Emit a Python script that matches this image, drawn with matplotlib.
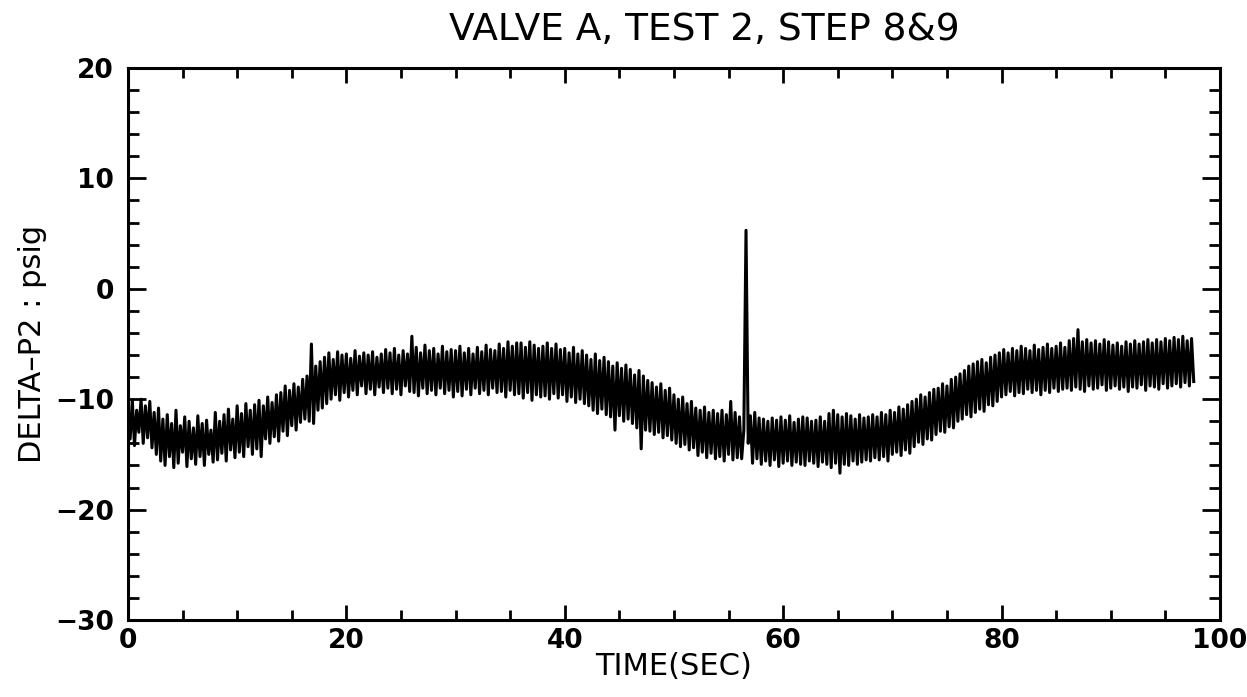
import numpy as np
import matplotlib
matplotlib.use("Agg")
import matplotlib.pyplot as plt
from matplotlib.ticker import MultipleLocator

# samples every 0.2 s (2 s per row)
sample_dt = 0.2
delta_p2 = [
    -10.4, -13.6, -10.1, -14.2, -11.0, -13.0, -10.0, -14.0, -10.6, -13.5,
    -10.2, -14.4, -11.2, -15.0, -10.8, -15.6, -11.8, -16.0, -11.4, -15.2,
    -12.2, -16.2, -11.0, -15.8, -12.4, -14.8, -11.6, -16.1, -12.0, -15.4,
    -12.6, -15.9, -11.5, -15.2, -12.2, -16.0, -11.9, -15.0, -12.8, -15.7,
    -11.2, -15.5, -12.0, -14.9, -11.4, -15.6, -10.9, -14.6, -11.8, -15.3,
    -10.6, -14.8, -11.3, -15.2, -10.4, -14.3, -11.0, -15.0, -10.5, -14.5,
    -10.1, -15.2, -10.6, -13.6, -9.8, -14.0, -10.3, -13.4, -9.6, -13.8,
    -9.4, -12.9, -8.8, -13.3, -9.2, -12.4, -8.6, -12.8, -8.9, -12.1,
    -8.2, -11.8, -7.9, -12.0, -5.0, -12.2, -7.0, -11.0, -6.6, -10.8,
    -6.2, -10.4, -5.8, -10.0, -6.4, -9.6, -5.7, -10.1, -6.0, -9.4,
    -5.9, -9.8, -6.3, -9.2, -5.6, -9.6, -6.1, -8.8, -5.8, -9.5,
    -6.0, -9.1, -5.7, -9.6, -6.2, -8.9, -5.9, -9.4, -5.5, -9.0,
    -5.8, -9.5, -5.4, -9.1, -6.0, -9.6, -5.6, -8.8, -5.9, -9.3,
    -4.3, -9.4, -5.3, -9.7, -5.8, -9.0, -5.1, -9.5, -5.6, -9.2,
    -5.4, -9.6, -5.9, -9.0, -5.2, -9.5, -5.7, -9.2, -5.5, -9.8,
    -5.6, -9.3, -5.2, -9.7, -5.8, -9.1, -5.4, -9.6, -5.9, -9.0,
    -5.3, -9.5, -5.7, -9.2, -5.1, -9.6, -5.5, -9.0, -5.6, -9.4,
    -5.0, -9.3, -5.4, -9.8, -4.8, -9.2, -5.2, -9.6, -4.9, -9.5,
    -4.9, -9.9, -5.3, -9.4, -4.8, -10.1, -5.1, -9.6, -5.4, -9.8,
    -5.2, -9.7, -4.9, -10.0, -5.4, -9.5, -5.0, -9.9, -5.5, -9.6,
    -5.4, -10.2, -5.8, -9.8, -5.3, -10.3, -5.9, -10.0, -5.6, -10.4,
    -6.0, -10.6, -6.4, -11.0, -5.9, -11.3, -6.5, -10.9, -6.2, -11.4,
    -6.6, -11.6, -7.0, -12.8, -6.7, -11.5, -7.2, -12.0, -6.9, -11.8,
    -7.3, -12.2, -7.8, -12.6, -7.4, -14.5, -7.9, -12.8, -8.3, -12.9,
    -8.5, -13.2, -8.9, -13.0, -8.6, -13.5, -9.2, -13.3, -9.0, -13.7,
    -9.6, -14.0, -10.0, -14.3, -9.8, -14.1, -10.4, -14.6, -10.2, -14.4,
    -10.8, -15.1, -11.0, -14.8, -10.7, -15.3, -11.2, -14.9, -11.0, -15.4,
    -11.3, -15.2, -11.0, -15.6, -11.4, -15.0, -10.2, -15.5, -11.2, -15.3,
    -11.6, -15.4, -12.8, 5.3, -14.0, -11.5, -15.8, -11.2, -15.4, -11.7,
    -15.9, -11.8, -15.6, -12.0, -16.0, -11.7, -15.5, -11.9, -16.1, -11.6,
    -15.8, -11.9, -15.6, -11.5, -16.0, -12.1, -15.7, -11.8, -15.9, -11.6,
    -16.0, -11.7, -15.6, -12.0, -15.8, -11.9, -16.1, -11.6, -15.7, -12.0,
    -15.9, -11.3, -16.2, -11.0, -15.8, -11.4, -16.7, -11.6, -15.9, -11.3,
    -16.0, -11.5, -15.6, -11.8, -15.9, -11.4, -15.7, -11.7, -15.5, -11.6,
    -15.6, -11.4, -15.3, -11.6, -15.5, -11.2, -15.2, -11.4, -15.6, -11.0,
    -15.0, -11.2, -14.8, -10.7, -15.1, -10.9, -14.6, -10.5, -14.9, -10.2,
    -14.3, -10.0, -13.9, -9.6, -14.1, -9.8, -13.6, -9.4, -13.7, -9.1,
    -13.2, -9.0, -12.9, -8.6, -13.0, -8.8, -12.5, -8.2, -12.6, -8.0,
    -12.0, -7.7, -11.8, -7.4, -11.4, -7.0, -11.6, -6.8, -11.2, -6.6,
    -10.9, -6.4, -11.1, -6.7, -10.5, -6.2, -10.6, -6.0, -10.2, -5.8,
    -9.8, -5.5, -9.6, -5.8, -9.3, -5.4, -9.7, -5.6, -9.4, -5.2,
    -9.5, -5.4, -9.1, -5.6, -9.4, -5.1, -9.2, -5.5, -9.6, -5.3,
    -9.2, -5.0, -9.4, -5.4, -9.0, -5.2, -9.3, -4.9, -9.1, -5.3,
    -9.0, -4.7, -9.2, -4.5, -8.9, -3.7, -9.1, -4.8, -9.3, -4.6,
    -8.8, -4.9, -9.1, -4.7, -9.0, -5.0, -8.7, -4.6, -9.2, -4.8,
    -9.0, -5.1, -8.8, -4.9, -9.1, -5.2, -8.9, -4.8, -9.3, -5.0,
    -8.9, -4.7, -9.0, -5.0, -8.7, -4.8, -9.2, -4.6, -8.8, -4.9,
    -8.9, -4.6, -9.1, -4.8, -8.6, -4.5, -9.0, -4.7, -8.8, -4.4,
    -8.6, -4.6, -8.9, -4.3, -8.5, -4.7, -8.8, -4.5, -8.4,
]
time_sec = np.arange(len(delta_p2)) * sample_dt

x_ticks = [0, 20, 40, 60, 80, 100]
y_ticks = [-30, -20, -10, 0, 10, 20]

fig = plt.figure(figsize=(12.47, 6.97), dpi=100)
ax = fig.add_axes([0.1026, 0.1105, 0.8757, 0.7919])

ax.plot(time_sec, delta_p2, color='black', linewidth=2.2)

ax.set_xlim(0, 100)
ax.set_ylim(-30, 20)
ax.set_xticks(x_ticks)
ax.set_yticks(y_ticks)
ax.xaxis.set_minor_locator(MultipleLocator(5))
ax.yaxis.set_minor_locator(MultipleLocator(2))

for s in ax.spines.values():
    s.set_linewidth(2.2)

ax.tick_params(axis='both', which='both', direction='in', top=True, right=True,
               width=2.0, labelsize=19)
ax.tick_params(axis='x', which='major', length=11, pad=6)
ax.tick_params(axis='x', which='minor', length=7)
ax.tick_params(axis='y', which='major', length=13, pad=10)
ax.tick_params(axis='y', which='minor', length=8)
for lab in ax.get_xticklabels() + ax.get_yticklabels():
    lab.set_fontweight('bold')

ax.set_xlabel('TIME(SEC)', fontsize=22, labelpad=-2)
ax.set_ylabel('DELTA\u2013P2 : psig', fontsize=22, labelpad=6)
fig.text(0.565, 0.957, 'VALVE A, TEST 2, STEP 8&9', fontsize=27,
         ha='center', va='center')

fig.savefig('out.png', dpi=100)
